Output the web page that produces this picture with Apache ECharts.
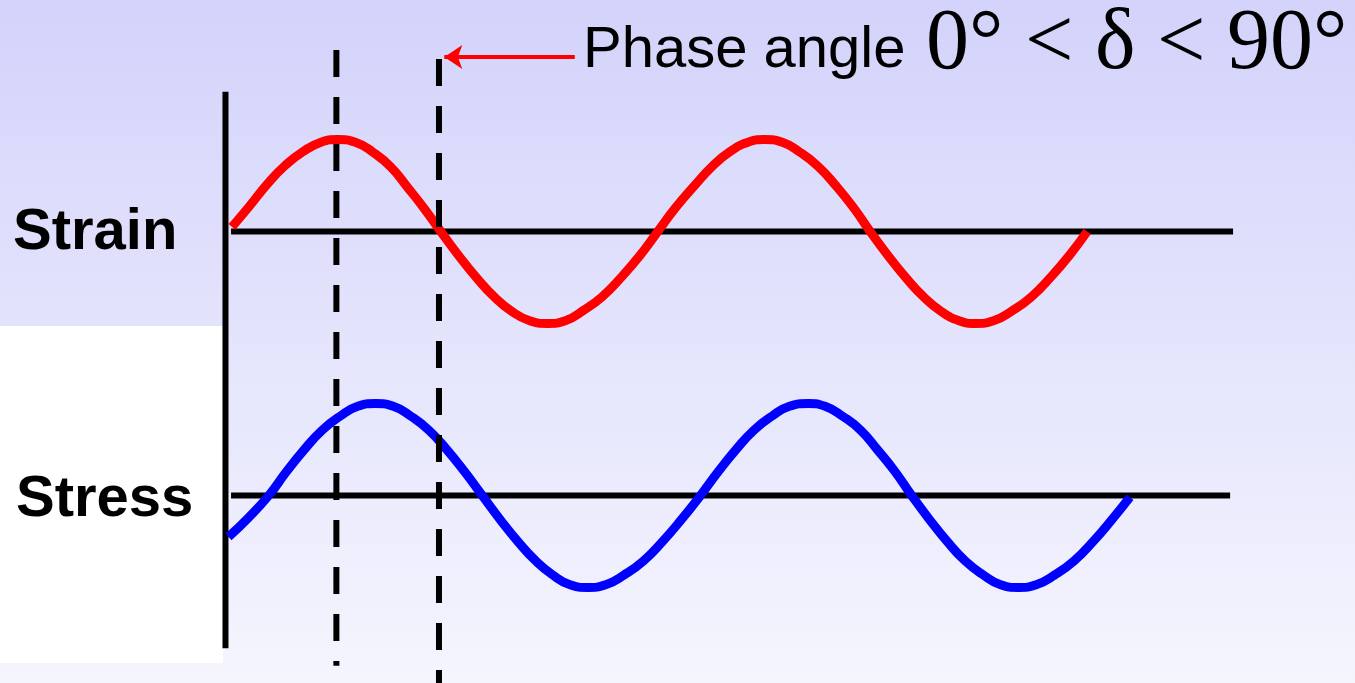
<!DOCTYPE html>
<html>
<head>
<meta charset="utf-8">
<title>Strain / Stress phase angle</title>
<script src="https://cdn.jsdelivr.net/npm/echarts@6/dist/echarts.min.js"></script>
<style>
  html, body { margin: 0; padding: 0; }
  #chart { width: 1355px; height: 683px; }
</style>
</head>
<body>
<div id="chart"></div>
<script>
// phase in degrees (0 = strain starts), amplitude in units of one peak
const strainPhase  = [0, 15, 30, 45, 60, 75, 89, 104, 119, 134, 148, 162, 176, 191, 206, 221, 236, 251, 266, 281, 296, 312, 328, 344,
                      359, 374, 390, 405, 420, 435, 449, 464, 479, 494, 509, 524, 538, 553, 568, 583, 598, 613, 627, 642, 658, 674, 690, 706, 721];
const strainValues = [0.05, 0.28, 0.52, 0.72, 0.87, 0.97, 1.0, 0.97, 0.86, 0.7, 0.48, 0.25, 0, -0.26, -0.5, -0.71, -0.87, -0.97, -1.0, -0.97, -0.86, -0.71, -0.5, -0.26,
                      0, 0.26, 0.5, 0.71, 0.87, 0.97, 1.0, 0.97, 0.86, 0.71, 0.5, 0.26, 0, -0.26, -0.5, -0.71, -0.87, -0.97, -1.0, -0.97, -0.86, -0.71, -0.5, -0.26, 0];
const stressPhase  = [-3, 14, 31, 46, 61, 76, 91, 106, 121, 136, 151, 166, 181, 196, 211, 226, 241, 256, 270, 285, 300, 315, 331, 347, 363, 379,
                      395, 410, 425, 440, 455, 470, 486, 500, 515, 530, 544, 559, 573, 588, 603, 618, 633, 648, 663, 678, 694, 710, 726, 742, 757];
const stressValues = [-0.45, -0.24, 0, 0.26, 0.5, 0.71, 0.86, 0.97, 1.0, 0.97, 0.86, 0.71, 0.5, 0.26, 0, -0.26, -0.5, -0.71, -0.86, -0.97, -1.0, -0.97, -0.86, -0.71, -0.5, -0.26,
                      0, 0.26, 0.5, 0.71, 0.86, 0.97, 1.0, 0.97, 0.86, 0.71, 0.5, 0.26, 0, -0.26, -0.5, -0.71, -0.86, -0.97, -1.0, -0.97, -0.86, -0.71, -0.5, -0.26, -0.02];
const guidePhases  = [88, 174.5];   // the two dashed lines
const rowLabels    = ['Strain', 'Stress'];
const titleText    = 'Phase angle';
const titleMath    = '0° < δ < 90°';

// layout: how the data maps onto the 1355x683 page
const W = 1355, H = 683;
const pxPerDeg = 427 / 360;
const originX = 232;
const pxPerUnit = 92;
const strainBase = 231.5, stressBase = 495.5;

function yRange(base) {
  return { min: -(H - base) / pxPerUnit, max: base / pxPerUnit };
}
const pair = (xs, ys) => xs.map((x, i) => [x, ys[i]]);

const chart = echarts.init(document.getElementById('chart'));

const option = {
  animation: false,
  backgroundColor: {
    type: 'linear', x: 0, y: 0, x2: 0, y2: 1,
    colorStops: [
      { offset: 0, color: '#d3d3fb' },
      { offset: 1, color: '#f5f5fe' }
    ]
  },
  grid: { left: 0, right: 0, top: 0, bottom: 0 },
  xAxis: {
    type: 'value',
    min: -originX / pxPerDeg,
    max: (W - originX) / pxPerDeg,
    show: false
  },
  yAxis: [
    Object.assign({ type: 'value', show: false }, yRange(strainBase)),
    Object.assign({ type: 'value', show: false }, yRange(stressBase))
  ],
  graphic: [
    { type: 'rect', z: 0, shape: { x: 0, y: 326, width: 223, height: 337 }, style: { fill: '#ffffff' } },
    { type: 'text', z: 100, style: { text: rowLabels[0], x: 13, y: 233, verticalAlign: 'middle',
        font: 'bold 58px "Liberation Sans", Arial, sans-serif', fill: '#000' } },
    { type: 'text', z: 100, style: { text: rowLabels[1], x: 16, y: 500, verticalAlign: 'middle',
        font: 'bold 58px "Liberation Sans", Arial, sans-serif', fill: '#000' } },
    { type: 'text', z: 100, style: { text: titleText, x: 583, y: 51, verticalAlign: 'middle',
        font: '58px "Liberation Sans", Arial, sans-serif', fill: '#000' } },
    { type: 'text', z: 100, style: { text: titleMath, x: 926, y: 45, verticalAlign: 'middle',
        font: '86px "Liberation Serif", "Times New Roman", serif', fill: '#000' } }
  ],
  series: [
    // vertical axis
    { type: 'line', z: 2, symbol: 'none', yAxisIndex: 0, clip: false,
      data: [[-5.5, 1.52], [-5.5, -4.53]],
      lineStyle: { color: '#000', width: 6 } },
    // baselines
    { type: 'line', z: 2, symbol: 'none', yAxisIndex: 0, clip: false,
      data: [[-0.8, 0], [844, 0]],
      lineStyle: { color: '#000', width: 6 } },
    { type: 'line', z: 2, symbol: 'none', yAxisIndex: 1, clip: false,
      data: [[-0.8, 0], [841.5, 0]],
      lineStyle: { color: '#000', width: 6 } },
    // waves
    { name: 'Strain', type: 'line', z: 3, symbol: 'none', smooth: true, yAxisIndex: 0, clip: false,
      data: pair(strainPhase, strainValues),
      lineStyle: { color: '#ff0000', width: 9 } },
    { name: 'Stress', type: 'line', z: 3, symbol: 'none', smooth: true, yAxisIndex: 1, clip: false,
      data: pair(stressPhase, stressValues),
      lineStyle: { color: '#0000ff', width: 9 } },
    // dashed guides
    { type: 'line', z: 4, symbol: 'none', yAxisIndex: 0, clip: false,
      data: [[guidePhases[0], 1.973], [guidePhases[0], -4.72]],
      lineStyle: { color: '#000', width: 6, type: [27, 20] } },
    { type: 'line', z: 4, symbol: 'none', yAxisIndex: 0, clip: false,
      data: [[guidePhases[1], 1.875], [guidePhases[1], -5.0]],
      lineStyle: { color: '#000', width: 6, type: [27, 20] },
      // red arrow pointing at the second guide
      markLine: {
        silent: true,
        symbol: ['none', 'arrow'],
        symbolSize: [18, 18],
        label: { show: false },
        lineStyle: { color: '#ff0000', width: 4, type: 'solid' },
        data: [[{ coord: [289, 1.897] }, { coord: [179, 1.897] }]]
      } }
  ]
};

chart.setOption(option);
window.addEventListener('resize', () => chart.resize());
</script>
</body>
</html>
